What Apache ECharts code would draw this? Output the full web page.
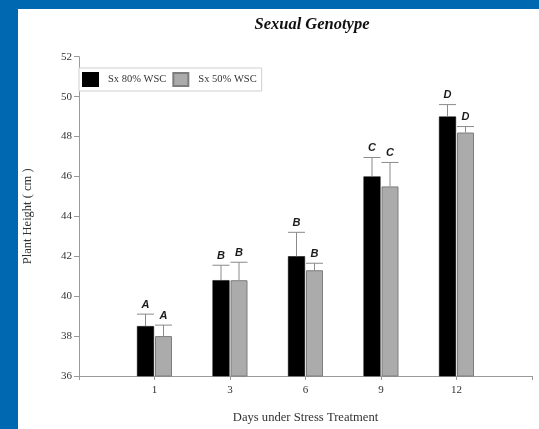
<!DOCTYPE html>
<html>
<head>
<meta charset="utf-8">
<style>
  html, body { margin: 0; padding: 0; background: #0067b1; }
  #chart { width: 539px; height: 429px; }
</style>
<script src="https://cdn.jsdelivr.net/npm/echarts@6/dist/echarts.min.js"></script>
</head>
<body>
<div id="chart"></div>
<script>
// Days under stress treatment (x categories)
const days = ['1', '3', '6', '9', '12'];

// Mean plant height (cm) and standard error, 80% water-soluble carbohydrate treatment
const wsc80 = [38.5, 40.8, 42.0, 46.0, 49.0];
const wsc80Se = [0.6, 0.75, 1.2, 0.95, 0.6];

// Mean plant height (cm) and standard error, 50% treatment
const wsc50 = [38.0, 40.8, 41.3, 45.5, 48.2];
const wsc50Se = [0.55, 0.9, 0.35, 1.2, 0.3];

// Significance groups
const letters80 = ['A', 'B', 'B', 'C', 'D'];
const letters50 = ['A', 'B', 'B', 'C', 'D'];

// y-axis ticks
const yMin = 36, yMax = 52, yStep = 2;

const BAR_W = 17;
const BAR_GAP = 1;

// pad one empty slot on each side so the bars sit between the axis ends
const cats = [''].concat(days, ['']);
const pad = arr => ['-'].concat(arr, ['-']);

function errData(vals, se, letters) {
  return vals.map((v, i) => [i + 1, v, v + se[i], letters[i]]);
}

function errRenderer(side) {
  return function (params, api) {
    const base = api.coord([api.value(0), api.value(1)]);
    const top = api.coord([api.value(0), api.value(2)]);
    const cx = base[0] + side * (BAR_W + BAR_GAP) / 2;
    const half = BAR_W / 2;
    const stroke = { stroke: '#8a8a8a', lineWidth: 1 };
    return {
      type: 'group',
      children: [
        { type: 'line', shape: { x1: cx, y1: base[1], x2: cx, y2: top[1] }, style: stroke },
        { type: 'line', shape: { x1: cx - half, y1: top[1], x2: cx + half, y2: top[1] }, style: stroke },
        {
          type: 'text',
          style: {
            text: api.value(3),
            x: cx, y: top[1] - 4,
            align: 'center', verticalAlign: 'bottom',
            font: 'italic bold 11px "Liberation Sans", Arial, sans-serif',
            fill: '#1a1a1a'
          }
        }
      ]
    };
  };
}

const serif = '"Liberation Serif", "Times New Roman", serif';

const chart = echarts.init(document.getElementById('chart'), null, { renderer: 'canvas' });
chart.setOption({
  backgroundColor: '#0067b1',
  animation: false,
  graphic: [{
    type: 'rect', z: -10, silent: true,
    shape: { x: 18, y: 9, width: 521, height: 420 },
    style: { fill: '#ffffff' }
  }],
  title: {
    text: 'Sexual Genotype',
    left: 307, top: 11, textAlign: 'center',
    textStyle: { fontFamily: serif, fontStyle: 'italic', fontWeight: 'bold', fontSize: 16.5, color: '#111' }
  },
  legend: {
    left: 79, top: 68,
    orient: 'horizontal',
    padding: [4, 5, 4, 3],
    itemWidth: 15, itemHeight: 13, itemGap: 6,
    borderColor: '#cfcfcf', borderWidth: 1,
    backgroundColor: '#fff',
    icon: 'rect',
    textStyle: { fontFamily: serif, fontSize: 10.5, color: '#333', padding: [0, 0, 0, 5] },
    data: ['Sx 80% WSC', 'Sx 50% WSC']
  },
  grid: { left: 79, right: 7, top: 56.7, bottom: 52.3 },
  xAxis: {
    type: 'category',
    data: cats,
    boundaryGap: false,
    name: 'Days under Stress Treatment',
    nameLocation: 'middle', nameGap: 35,
    nameTextStyle: { fontFamily: serif, fontSize: 12.6, color: '#333' },
    axisLine: { lineStyle: { color: '#9a9a9a', width: 1 } },
    axisTick: { show: true, length: 4, lineStyle: { color: '#9a9a9a' }, interval: 0 },
    axisLabel: { fontFamily: serif, fontSize: 11, color: '#333', margin: 9, interval: 0 },
    splitLine: { show: false }
  },
  yAxis: {
    type: 'value',
    min: yMin, max: yMax, interval: yStep,
    name: 'Plant Height ( cm )',
    nameLocation: 'middle', nameGap: 45, nameRotate: 90,
    nameTextStyle: { fontFamily: serif, fontSize: 12.5, color: '#333' },
    axisLine: { show: true, lineStyle: { color: '#9a9a9a', width: 1 } },
    axisTick: { show: true, length: 5, lineStyle: { color: '#9a9a9a' } },
    axisLabel: { fontFamily: serif, fontSize: 11, color: '#333', margin: 7 },
    splitLine: { show: false }
  },
  series: [
    {
      name: 'Sx 80% WSC', type: 'bar',
      data: pad(wsc80),
      barWidth: BAR_W, barGap: (BAR_GAP / BAR_W * 100) + '%',
      itemStyle: { color: '#000000', borderColor: '#000000', borderWidth: 0.5 }
    },
    {
      name: 'Sx 50% WSC', type: 'bar',
      data: pad(wsc50),
      barWidth: BAR_W,
      itemStyle: { color: '#ababab', borderColor: '#7d7d7d', borderWidth: 1 }
    },
    {
      type: 'custom', name: 'err80', z: 5,
      renderItem: errRenderer(-1),
      data: errData(wsc80, wsc80Se, letters80),
      encode: { x: 0, y: [1, 2] }
    },
    {
      type: 'custom', name: 'err50', z: 5,
      renderItem: errRenderer(1),
      data: errData(wsc50, wsc50Se, letters50),
      encode: { x: 0, y: [1, 2] }
    }
  ]
});
</script>
</body>
</html>
